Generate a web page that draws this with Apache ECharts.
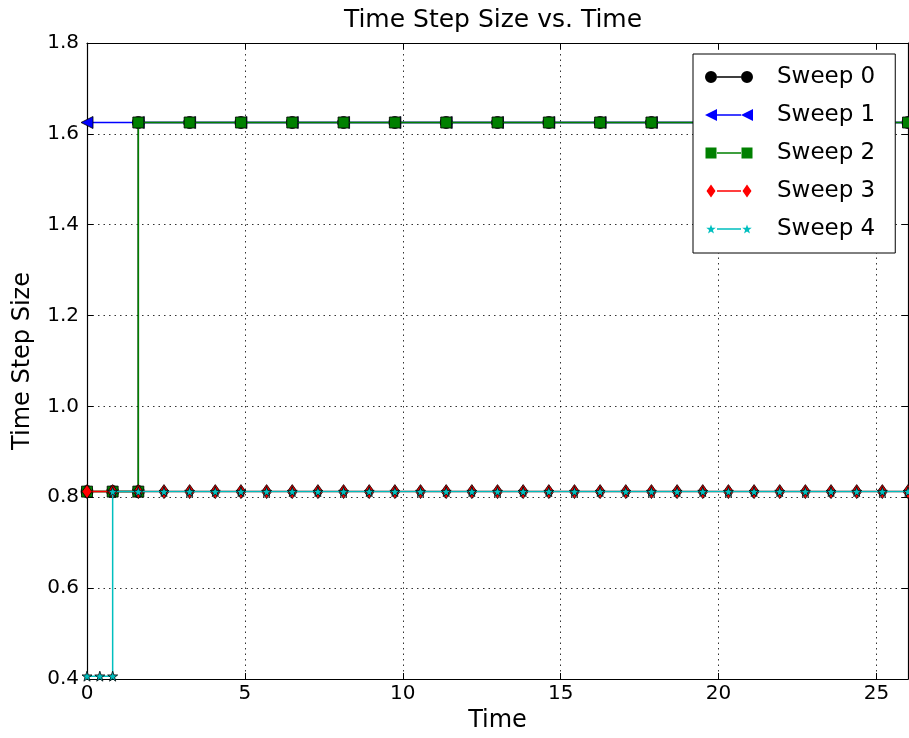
<!DOCTYPE html>
<html>
<head>
<meta charset="utf-8">
<script src="https://cdn.jsdelivr.net/npm/echarts@6/dist/echarts.min.js"></script>
<style>
html,body{margin:0;padding:0;background:#fff;}
#chart{width:909px;height:738px;}
</style>
</head>
<body>
<div id="chart"></div>
<script>
// ---- data ----
const seriesNames = ['Sweep 0', 'Sweep 1', 'Sweep 2', 'Sweep 3', 'Sweep 4'];

const sweep0Time = [0, 0.8125, 1.625, 1.625, 3.25, 4.875, 6.5, 8.125, 9.75, 11.375, 13, 14.625, 16.25, 17.875, 19.5, 21.125, 22.75, 24.375, 26];
const sweep0Step = [0.8125, 0.8125, 0.8125, 1.625, 1.625, 1.625, 1.625, 1.625, 1.625, 1.625, 1.625, 1.625, 1.625, 1.625, 1.625, 1.625, 1.625, 1.625, 1.625];

const sweep1Time = [0, 1.625, 3.25, 4.875, 6.5, 8.125, 9.75, 11.375, 13, 14.625, 16.25, 17.875, 19.5, 21.125, 22.75, 24.375, 26];
const sweep1Step = [1.625, 1.625, 1.625, 1.625, 1.625, 1.625, 1.625, 1.625, 1.625, 1.625, 1.625, 1.625, 1.625, 1.625, 1.625, 1.625, 1.625];

const sweep2Time = [0, 0.8125, 1.625, 1.625, 3.25, 4.875, 6.5, 8.125, 9.75, 11.375, 13, 14.625, 16.25, 17.875, 19.5, 21.125, 22.75, 24.375, 26];
const sweep2Step = [0.8125, 0.8125, 0.8125, 1.625, 1.625, 1.625, 1.625, 1.625, 1.625, 1.625, 1.625, 1.625, 1.625, 1.625, 1.625, 1.625, 1.625, 1.625, 1.625];

const sweep3Time = [0, 0.8125, 1.625, 2.4375, 3.25, 4.0625, 4.875, 5.6875, 6.5, 7.3125, 8.125, 8.9375, 9.75, 10.5625, 11.375, 12.1875, 13, 13.8125, 14.625, 15.4375, 16.25, 17.0625, 17.875, 18.6875, 19.5, 20.3125, 21.125, 21.9375, 22.75, 23.5625, 24.375, 25.1875, 26];
const sweep3Step = [0.8125, 0.8125, 0.8125, 0.8125, 0.8125, 0.8125, 0.8125, 0.8125, 0.8125, 0.8125, 0.8125, 0.8125, 0.8125, 0.8125, 0.8125, 0.8125, 0.8125, 0.8125, 0.8125, 0.8125, 0.8125, 0.8125, 0.8125, 0.8125, 0.8125, 0.8125, 0.8125, 0.8125, 0.8125, 0.8125, 0.8125, 0.8125, 0.8125];

const sweep4Time = [0, 0.40625, 0.8125, 0.8125, 1.625, 2.4375, 3.25, 4.0625, 4.875, 5.6875, 6.5, 7.3125, 8.125, 8.9375, 9.75, 10.5625, 11.375, 12.1875, 13, 13.8125, 14.625, 15.4375, 16.25, 17.0625, 17.875, 18.6875, 19.5, 20.3125, 21.125, 21.9375, 22.75, 23.5625, 24.375, 25.1875, 26];
const sweep4Step = [0.40625, 0.40625, 0.40625, 0.8125, 0.8125, 0.8125, 0.8125, 0.8125, 0.8125, 0.8125, 0.8125, 0.8125, 0.8125, 0.8125, 0.8125, 0.8125, 0.8125, 0.8125, 0.8125, 0.8125, 0.8125, 0.8125, 0.8125, 0.8125, 0.8125, 0.8125, 0.8125, 0.8125, 0.8125, 0.8125, 0.8125, 0.8125, 0.8125, 0.8125, 0.8125];

const xTickLabels = ['0', '5', '10', '15', '20', '25'];
const yTickLabels = ['0.4', '0.6', '0.8', '1.0', '1.2', '1.4', '1.6', '1.8'];

// ---- styling ----
const FONT = 'DejaVu Sans';
const colors = ['#000000', '#0000ff', '#008000', '#ff0000', '#00bfbf'];
const starPath = 'path://M5,0L6.18,3.38L9.76,3.46L6.9,5.62L7.94,9.05L5,7L2.06,9.05L3.1,5.62L0.24,3.46L3.82,3.38Z';
const symbols = ['circle', 'triangle', 'rect', 'diamond', starPath];
const symbolSizes = [12, 12, 11, [10, 14], 10];
const symbolRotates = [0, 90, 0, 0, 0];

function star(cx, cy, s) {
  const pts = [[5,0],[6.18,3.38],[9.76,3.46],[6.9,5.62],[7.94,9.05],[5,7],[2.06,9.05],[3.1,5.62],[0.24,3.46],[3.82,3.38]];
  return 'M' + pts.map(p => ((p[0]-5)*s+cx).toFixed(2) + ',' + ((p[1]-5)*s+cy).toFixed(2)).join('L') + 'Z';
}
const lineSeg = 'M12,5.8L36,5.8L36,7.2L12,7.2Z';
const bbox = ' M0,0L0.01,0Z M48,13L47.99,13Z';
const legendIcons = [
  'path://M0,6.5A6,6,0,1,1,12,6.5A6,6,0,1,1,0,6.5Z' + lineSeg + 'M36,6.5A6,6,0,1,1,48,6.5A6,6,0,1,1,36,6.5Z' + bbox,
  'path://M0,6.5L12,0.5L12,12.5Z' + lineSeg + 'M36,6.5L48,0.5L48,12.5Z' + bbox,
  'path://M0.5,1L11.5,1L11.5,12L0.5,12Z' + lineSeg + 'M36.5,1L47.5,1L47.5,12L36.5,12Z' + bbox,
  'path://M6,0L10.5,6.5L6,13L1.5,6.5Z' + lineSeg + 'M42,0L46.5,6.5L42,13L37.5,6.5Z' + bbox,
  'path://' + star(6, 6.9, 1.0) + lineSeg + star(42, 6.9, 1.0) + bbox
];

const allTimes = [sweep0Time, sweep1Time, sweep2Time, sweep3Time, sweep4Time];
const allSteps = [sweep0Step, sweep1Step, sweep2Step, sweep3Step, sweep4Step];

const series = seriesNames.map((name, i) => ({
  name: name,
  type: 'line',
  xAxisIndex: 0,
  yAxisIndex: 0,
  data: allTimes[i].map((t, k) => [t, allSteps[i][k]]),
  symbol: symbols[i],
  symbolSize: symbolSizes[i],
  symbolRotate: symbolRotates[i],
  showAllSymbol: true,
  clip: true,
  lineStyle: { color: colors[i], width: 1.5 },
  itemStyle: { color: colors[i], borderColor: '#000', borderWidth: 0.8 },
  emphasis: { disabled: true },
  z: 3 + i
}));

const axisLineStyle = { show: true, onZero: false, lineStyle: { color: '#000', width: 1.2 } };
const gridLine = { show: true, lineStyle: { color: '#000', type: [1.5, 4], width: 1, opacity: 0.8 } };

const option = {
  animation: false,
  backgroundColor: '#fff',
  title: {
    text: 'Time Step Size vs. Time',
    left: 493,
    top: 8,
    padding: 0,
    textAlign: 'center',
    textStyle: { fontFamily: FONT, fontSize: 25, fontWeight: 'normal', color: '#000' }
  },
  grid: { left: 87, right: 1, top: 43, bottom: 59, containLabel: false },
  legend: {
    orient: 'vertical',
    left: 693,
    top: 54,
    padding: [11, 20, 12, 12],
    itemGap: 14,
    itemWidth: 48,
    itemHeight: 13,
    backgroundColor: '#fff',
    borderColor: '#000',
    borderWidth: 1,
    borderRadius: 0,
    z: 20,
    itemStyle: { borderWidth: 0 },
    lineStyle: { width: 0 },
    textStyle: { fontFamily: FONT, fontSize: 23, color: '#000', lineHeight: 24, padding: [0, 0, 0, 19] },
    data: seriesNames.map((n, i) => ({ name: n, icon: legendIcons[i] }))
  },
  xAxis: [
    {
      type: 'value', position: 'bottom', min: 0, max: 26, interval: 5,
      name: 'Time', nameLocation: 'middle', nameGap: 28,
      nameTextStyle: { fontFamily: FONT, fontSize: 24, color: '#000' },
      axisLine: axisLineStyle,
      axisTick: { show: true, inside: true, length: 6, lineStyle: { color: '#000' } },
      axisLabel: {
        show: true, margin: 5, showMaxLabel: false,
        fontFamily: FONT, fontSize: 20, color: '#000',
        formatter: v => { const i = xTickLabels.indexOf(String(Math.round(v * 1000) / 1000)); return i >= 0 ? xTickLabels[i] : ''; }
      },
      splitLine: gridLine
    },
    {
      type: 'value', position: 'top', min: 0, max: 26, interval: 5,
      axisLine: axisLineStyle,
      axisTick: { show: true, inside: true, length: 6, lineStyle: { color: '#000' } },
      axisLabel: { show: false },
      splitLine: { show: false }
    }
  ],
  yAxis: [
    {
      type: 'value', position: 'left', min: 0.4, max: 1.8, interval: 0.2,
      name: 'Time Step Size', nameLocation: 'middle', nameGap: 52, nameRotate: 90,
      nameTextStyle: { fontFamily: FONT, fontSize: 24, color: '#000' },
      axisLine: axisLineStyle,
      axisTick: { show: true, inside: true, length: 6, lineStyle: { color: '#000' } },
      axisLabel: {
        show: true, margin: 8, fontFamily: FONT, fontSize: 20, color: '#000',
        formatter: v => { const s = v.toFixed(1); return yTickLabels.indexOf(s) >= 0 ? s : ''; }
      },
      splitLine: gridLine
    },
    {
      type: 'value', position: 'right', min: 0.4, max: 1.8, interval: 0.2,
      axisLine: axisLineStyle,
      axisTick: { show: true, inside: true, length: 6, lineStyle: { color: '#000' } },
      axisLabel: { show: false },
      splitLine: { show: false }
    }
  ],
  series: series
};

const chart = echarts.init(document.getElementById('chart'), null, { renderer: 'canvas' });
chart.setOption(option);
</script>
</body>
</html>
